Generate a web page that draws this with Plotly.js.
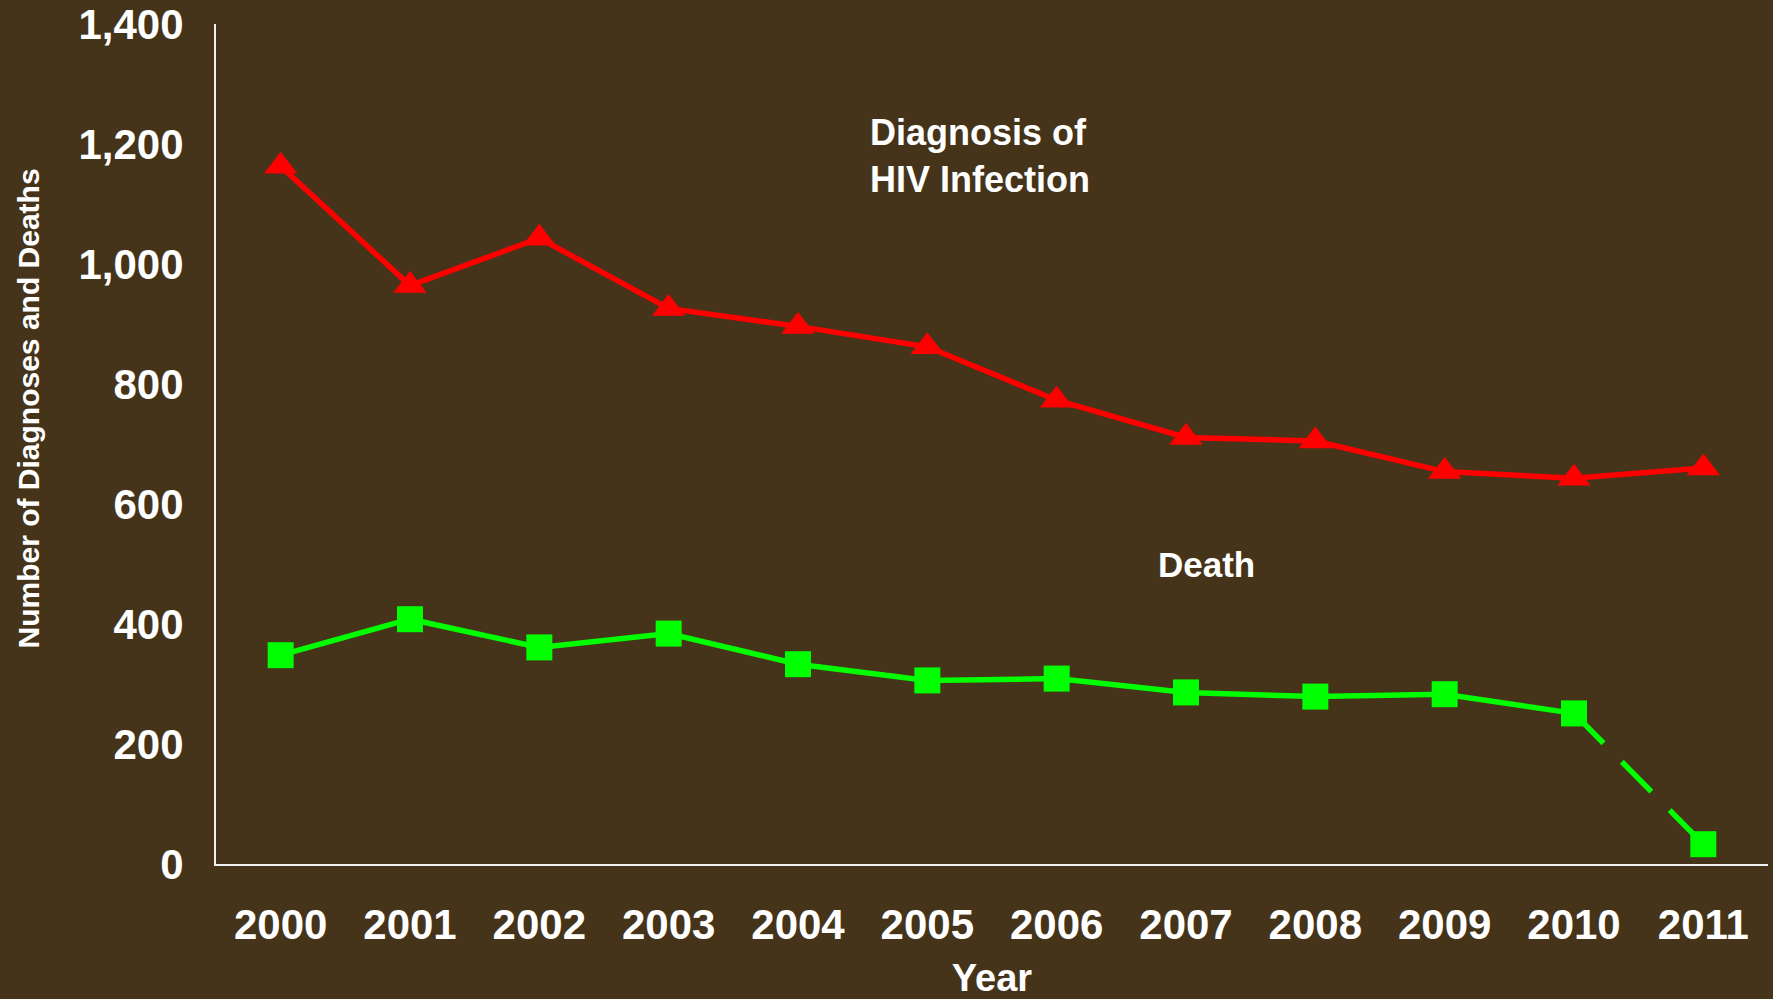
<!DOCTYPE html>
<html>
<head>
<meta charset="utf-8">
<script src="https://cdn.plot.ly/plotly-3.0.1.min.js"></script>
<style>
  html, body { margin: 0; padding: 0; background: #45341a; }
  #chart { width: 1773px; height: 999px; }
</style>
</head>
<body>
<div id="chart"></div>
<script>
const years = ['2000', '2001', '2002', '2003', '2004', '2005', '2006', '2007', '2008', '2009', '2010', '2011'];
const diagnoses = [1163, 964, 1043, 926, 896, 862, 773, 711, 705, 654, 643, 660];
const deaths = [348, 408, 361, 384, 333, 306, 309, 286, 279, 283, 251, 33];
const yTicks = [0, 200, 400, 600, 800, 1000, 1200, 1400];
const yTickText = ['0', '200', '400', '600', '800', '1,000', '1,200', '1,400'];

const bg = '#45341a';
const fontFam = 'Liberation Sans, Arial, sans-serif';
const white = '#ffffff';

// Death: solid through 2010, dashed 2010 -> 2011 (provisional)
const solidIdx = years.length - 1;
const traces = [
  {
    x: years.slice(0, solidIdx),
    y: deaths.slice(0, solidIdx),
    type: 'scatter', mode: 'lines',
    line: { color: '#00ff00', width: 5.5 },
    showlegend: false, cliponaxis: false
  },
  {
    x: years.slice(solidIdx - 1),
    y: deaths.slice(solidIdx - 1),
    type: 'scatter', mode: 'lines',
    line: { color: '#00ff00', width: 5.5, dash: '42px,26px' },
    hoverinfo: 'skip', showlegend: false, cliponaxis: false
  },
  {
    x: years, y: deaths,
    type: 'scatter', mode: 'markers', name: 'Death',
    marker: { symbol: 'square', size: 26, color: '#00ff00' },
    showlegend: false, cliponaxis: false
  },
  {
    x: years, y: diagnoses,
    type: 'scatter', mode: 'lines+markers', name: 'Diagnosis of HIV Infection',
    line: { color: '#ff0000', width: 5.5 },
    marker: { symbol: 'triangle-up', size: 29, color: '#ff0000' },
    showlegend: false, cliponaxis: false
  }
];

const layout = {
  width: 1773, height: 999,
  paper_bgcolor: bg, plot_bgcolor: bg,
  margin: { l: 216, r: 5, t: 24, b: 135 },
  showlegend: false,
  font: { family: fontFam, color: white },
  xaxis: {
    type: 'category',
    categoryorder: 'array', categoryarray: years,
    range: [-0.5, 11.5],
    showgrid: false, zeroline: false,
    showline: true, linecolor: '#f0f0f0', linewidth: 2,
    ticks: '',
    tickfont: { family: fontFam, size: 42, color: white, weight: 'bold' },
    ticklabelstandoff: 23,
    title: { text: 'Year', font: { family: fontFam, size: 38, color: white, weight: 'bold' }, standoff: 25 },
    automargin: false, fixedrange: true
  },
  yaxis: {
    range: [0, 1400],
    tickvals: yTicks, ticktext: yTickText,
    showgrid: false, zeroline: false,
    showline: true, linecolor: '#f0f0f0', linewidth: 2,
    ticks: '',
    tickfont: { family: fontFam, size: 42, color: white, weight: 'bold' },
    ticklabelstandoff: 22,
    automargin: false, fixedrange: true
  },
  annotations: [
    {
      text: 'Number of Diagnoses and Deaths',
      xref: 'paper', yref: 'paper',
      x: (27.5 - 216) / 1552, y: (864 - 409) / 840,
      xanchor: 'center', yanchor: 'middle',
      textangle: -90, showarrow: false,
      font: { family: fontFam, size: 30, color: white, weight: 'bold' }
    },
    {
      text: 'Diagnosis of<br>HIV Infection',
      xref: 'paper', yref: 'y',
      x: (868 - 216) / 1552, y: 1180,
      xanchor: 'left', yanchor: 'middle', align: 'left',
      showarrow: false,
      font: { family: fontFam, size: 36, color: white, weight: 'bold' }
    },
    {
      text: 'Death',
      xref: 'paper', yref: 'y',
      x: (1156 - 216) / 1552, y: 500,
      xanchor: 'left', yanchor: 'middle', align: 'left',
      showarrow: false,
      font: { family: fontFam, size: 35, color: white, weight: 'bold' }
    }
  ]
};

Plotly.newPlot('chart', traces, layout, { displayModeBar: false, responsive: false });
</script>
</body>
</html>
